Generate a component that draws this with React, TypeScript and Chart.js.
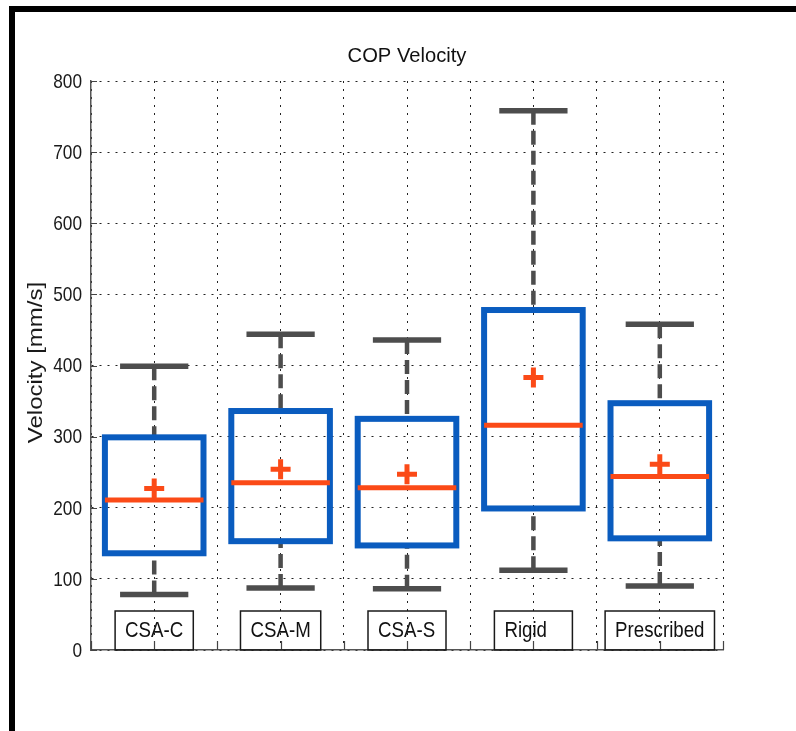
import { useEffect, useRef } from "react";
import { Chart, registerables } from "chart.js";

Chart.register(...registerables);

// Groups and five-number summaries (mm/s)
const groups = ["CSA-C", "CSA-M", "CSA-S", "Rigid", "Prescribed"];
const whiskerLow = [78, 87, 86, 112, 90];
const quartile1 = [136, 153, 147, 199, 157];
const medians = [211, 235, 228, 316, 244];
const quartile3 = [299, 336, 325, 478, 347];
const whiskerHigh = [399, 444, 436, 758, 458];
const means = [227, 254, 247, 383, 261];

const yTicks = [0, 100, 200, 300, 400, 500, 600, 700, 800];
const chartTitle = "COP Velocity";
const yTitle = "Velocity [mm/s]";

const BLUE = "#0a5cbf";
const ORANGE = "#fb4a17";
const WHISKER = "#4d4d4d";
const FAMILY = "'Liberation Sans', Arial, Helvetica, sans-serif";

// Draws text squeezed horizontally (narrow face look)
function squeezedText(
  ctx: CanvasRenderingContext2D,
  text: string,
  x: number,
  y: number,
  size: number,
  squeeze: number,
  align: CanvasTextAlign,
  baseline: CanvasTextBaseline,
  color: string
) {
  ctx.save();
  ctx.font = `${size}px ${FAMILY}`;
  ctx.fillStyle = color;
  ctx.textAlign = align;
  ctx.textBaseline = baseline;
  ctx.translate(x, y);
  ctx.scale(squeeze, 1);
  ctx.fillText(text, 0, 0);
  ctx.restore();
}

const boxPlotPlugin = {
  id: "boxPlot",
  beforeDraw(chart: any) {
    const { ctx, width, height } = chart;
    ctx.save();
    ctx.fillStyle = "#ffffff";
    ctx.fillRect(0, 0, width, height);
    // figure frame
    ctx.fillStyle = "#000000";
    ctx.fillRect(9, 6, 6, height - 6);
    ctx.fillRect(9, 6, width - 9, 6);
    ctx.restore();
  },
  beforeDatasetsDraw(chart: any) {
    const { ctx } = chart;
    const xs = chart.scales.x;
    const ys = chart.scales.y;
    ctx.save();
    groups.forEach((_, i) => {
      const pos = i + 1;
      const cx = xs.getPixelForValue(pos);
      const capL = xs.getPixelForValue(pos - 0.27);
      const capR = xs.getPixelForValue(pos + 0.27);
      const boxL = xs.getPixelForValue(pos - 0.39);
      const boxR = xs.getPixelForValue(pos + 0.39);
      const yLo = ys.getPixelForValue(whiskerLow[i]);
      const yQ1 = ys.getPixelForValue(quartile1[i]);
      const yMed = ys.getPixelForValue(medians[i]);
      const yQ3 = ys.getPixelForValue(quartile3[i]);
      const yHi = ys.getPixelForValue(whiskerHigh[i]);

      // dashed whiskers
      ctx.strokeStyle = WHISKER;
      ctx.lineWidth = 4.5;
      ctx.setLineDash([14, 6]);
      ctx.beginPath();
      ctx.moveTo(cx, yHi);
      ctx.lineTo(cx, yQ3);
      ctx.moveTo(cx, yLo);
      ctx.lineTo(cx, yQ1);
      ctx.stroke();

      // whisker caps
      ctx.setLineDash([]);
      ctx.lineWidth = 5.5;
      ctx.beginPath();
      ctx.moveTo(capL, yHi);
      ctx.lineTo(capR, yHi);
      ctx.moveTo(capL, yLo);
      ctx.lineTo(capR, yLo);
      ctx.stroke();

      // interquartile box
      ctx.strokeStyle = BLUE;
      ctx.lineWidth = 6;
      ctx.strokeRect(boxL, yQ3, boxR - boxL, yQ1 - yQ3);

      // median
      ctx.strokeStyle = ORANGE;
      ctx.lineWidth = 5;
      ctx.beginPath();
      ctx.moveTo(boxL, yMed);
      ctx.lineTo(boxR, yMed);
      ctx.stroke();
    });
    ctx.restore();
  },
  afterDraw(chart: any) {
    const { ctx, chartArea } = chart;
    const xs = chart.scales.x;
    const ys = chart.scales.y;
    ctx.save();

    // inward tick marks
    ctx.strokeStyle = "#444";
    ctx.lineWidth = 1.2;
    ctx.beginPath();
    yTicks.forEach((v) => {
      const y = Math.round(ys.getPixelForValue(v)) + 0.5;
      ctx.moveTo(chartArea.left, y);
      ctx.lineTo(chartArea.left + 6, y);
    });
    xs.ticks.forEach((t: any) => {
      const x = Math.round(xs.getPixelForValue(t.value)) + 0.5;
      ctx.moveTo(x, chartArea.bottom);
      ctx.lineTo(x, chartArea.bottom - 9);
    });
    ctx.stroke();

    // y tick labels
    yTicks.forEach((v) => {
      squeezedText(ctx, String(v), chartArea.left - 9, ys.getPixelForValue(v) + 1, 21, 0.82, "right", "middle", "#1a1a1a");
    });

    // group labels in framed boxes
    groups.forEach((name, i) => {
      const cx = xs.getPixelForValue(i + 1);
      ctx.font = `22px ${FAMILY}`;
      const tw = ctx.measureText(name).width * 0.85;
      const w = Math.max(78, tw + 20);
      const left = cx - w / 2;
      const top = 611;
      ctx.strokeStyle = "#1a1a1a";
      ctx.lineWidth = 1.5;
      ctx.strokeRect(left, top, w, chartArea.bottom - top);
      squeezedText(ctx, name, left + 10, 637, 22, 0.85, "left", "alphabetic", "#111");
    });

    // chart title
    squeezedText(ctx, chartTitle, (chartArea.left + chartArea.right) / 2, 62, 21, 0.96, "center", "alphabetic", "#111");

    // y axis title
    ctx.save();
    ctx.translate(37, (chartArea.top + chartArea.bottom) / 2 - 3);
    ctx.rotate(-Math.PI / 2);
    ctx.scale(1, 0.82);
    ctx.font = `24px ${FAMILY}`;
    ctx.fillStyle = "#1a1a1a";
    ctx.textAlign = "center";
    ctx.textBaseline = "middle";
    ctx.fillText(yTitle, 0, 0);
    ctx.restore();

    ctx.restore();
  },
};

export default function App() {
  const canvasRef = useRef<HTMLCanvasElement | null>(null);

  useEffect(() => {
    const canvas = canvasRef.current;
    if (!canvas) return;
    const chart = new Chart(canvas, {
      type: "scatter",
      data: {
        datasets: [
          {
            label: "Mean",
            data: means.map((m, i) => ({ x: i + 1, y: m })),
            pointStyle: "cross",
            radius: 10,
            borderWidth: 5,
            borderColor: ORANGE,
            backgroundColor: ORANGE,
          },
        ],
      },
      options: {
        responsive: false,
        animation: false,
        devicePixelRatio: 1,
        layout: { padding: { left: 0, right: 73, top: 81, bottom: 0 } },
        plugins: {
          legend: { display: false },
          tooltip: { enabled: false },
          title: { display: false },
        },
        scales: {
          x: {
            type: "linear",
            min: 0.5,
            max: 5.5,
            ticks: { display: false, stepSize: 0.5 },
            grid: { color: "#222", lineWidth: 1, drawTicks: false },
            border: { display: true, color: "#555", width: 1.5, dash: [2, 6] },
            afterFit: (s: any) => {
              s.height = 81;
            },
          },
          y: {
            type: "linear",
            min: 0,
            max: 800,
            ticks: { display: false, stepSize: 100 },
            afterBuildTicks: (s: any) => {
              s.ticks = yTicks.map((v) => ({ value: v }));
            },
            grid: { color: "#222", lineWidth: 1, drawTicks: false },
            border: { display: true, color: "#555", width: 1.5, dash: [2, 6] },
            afterFit: (s: any) => {
              s.width = 91;
            },
          },
        },
      },
      plugins: [boxPlotPlugin],
    });
    return () => chart.destroy();
  }, []);

  return (
    <div style={{ position: "fixed", left: 0, top: 0, width: 796, height: 731 }}>
      <canvas ref={canvasRef} width={796} height={731} style={{ display: "block" }} />
    </div>
  );
}
